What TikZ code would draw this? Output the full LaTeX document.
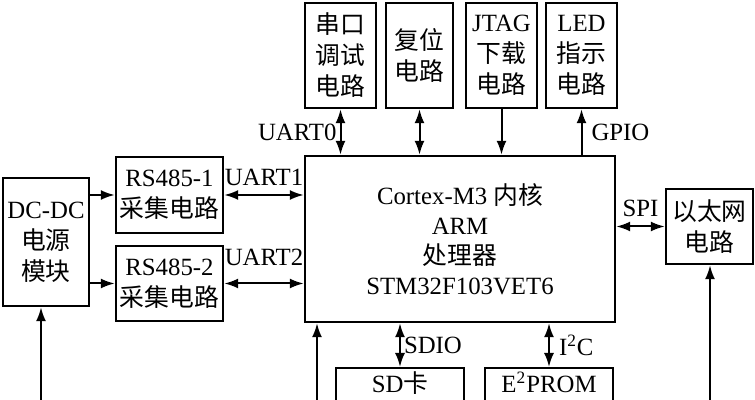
\documentclass[tikz,border=0pt]{standalone}
\usepackage{fontspec}
\setmainfont{Liberation Serif}
\newfontfamily\zh{Noto Sans CJK SC}
\usetikzlibrary{arrows.meta}

\begin{document}
\begin{tikzpicture}[x=0.5pt,y=-0.5pt,
  box/.style={draw, line width=1.2pt, align=center, inner sep=0pt, font=\fontsize{12.4}{15.5}\selectfont},
  link/.style={line width=1pt, -{Latex[length=7pt,width=5pt]}},
  dlink/.style={line width=1pt, {Latex[length=7pt,width=5pt]}-{Latex[length=7pt,width=5pt]}},
  lbl/.style={font=\fontsize{12.4}{14}\selectfont, inner sep=1.5pt}]

\clip (0,0) rectangle (755,400);

% Power and RS485 blocks
\node [box, minimum width=43pt, minimum height=64pt] (dc) at (46,242) {DC-DC\\{\zh 电源}\\{\zh 模块}};
\node [box, minimum width=53.5pt, minimum height=38pt] (rs1) at (169.5,195) {RS485-1\\{\zh 采集电路}};
\node [box, minimum width=53.5pt, minimum height=37.5pt] (rs2) at (169.5,283.5) {RS485-2\\{\zh 采集电路}};

% Processor
\node [box, minimum width=155pt, minimum height=83pt, font=\fontsize{12.4}{15}\selectfont] (cpu) at (460,239)
  {Cortex-M3 {\zh 内核}\\ARM\\{\zh 处理器}\\STM32F103VET6};

% Top blocks
\node [box, minimum width=35.5pt, minimum height=52.5pt] (dbg) at (340.5,55.5) {{\zh 串口}\\{\zh 调试}\\{\zh 电路}};
\node [box, minimum width=33.5pt, minimum height=52.5pt] (rst) at (419.5,55.5) {{\zh 复位}\\{\zh 电路}};
\node [box, minimum width=35.5pt, minimum height=52.5pt] (jtag) at (501.5,55.5) {JTAG\\{\zh 下载}\\{\zh 电路}};
\node [box, minimum width=35.5pt, minimum height=52.5pt] (led) at (581.5,55.5) {LED\\{\zh 指示}\\{\zh 电路}};

% Ethernet
\node [box, minimum width=43.5pt, minimum height=37.5pt] (eth) at (709.5,226.5) {{\zh 以太网}\\{\zh 电路}};

% Bottom blocks (cut by the page)
\node [box, anchor=north, minimum width=64pt, inner ysep=3pt, text height=9pt, text depth=40pt] (sd) at (400,367) {SD{\zh 卡}};
\node [box, anchor=north, minimum width=64pt, inner ysep=3pt, text height=9pt, text depth=40pt] (eep) at (549,367) {E\textsuperscript{2}PROM};

% Inputs from below
\coordinate (dcin) at (41,400);
\coordinate (cpuin) at (317,400);
\coordinate (ethin) at (710,400);

% Connectors
\draw [link] (rs1.west -| dc.east) -- (rs1.west);
\draw [link] (rs2.west -| dc.east) -- (rs2.west);
\draw [dlink] (rs1.east) -- node [lbl, above=2.5pt] {UART1} (rs1.east -| cpu.west);
\draw [dlink] (rs2.east) -- node [lbl, above=7pt] {UART2} (rs2.east -| cpu.west);

\draw [dlink] (dbg.south) -- node [lbl, left] {UART0} (dbg.south |- cpu.north);
\draw [dlink] (rst.south) -- (rst.south |- cpu.north);
\draw [link] (jtag.south) -- (jtag.south |- cpu.north);
\draw [link] (led.south |- cpu.north) -- node [lbl, right=3pt] {GPIO} (led.south);

\draw [dlink] (eth.west -| cpu.east) -- node [lbl, above=3pt] {SPI} (eth.west);
\draw [dlink] (sd.north |- cpu.south) -- node [lbl, right] {SDIO} (sd.north);
\draw [dlink] (eep.north |- cpu.south) -- node [lbl, right=3pt] {I\textsuperscript{2}C} (eep.north);

\draw [link] (dcin) -- (dcin |- dc.south);
\draw [link] (cpuin) -- (cpuin |- cpu.south);
\draw [link] (ethin) -- (ethin |- eth.south);
\end{tikzpicture}
\end{document}
